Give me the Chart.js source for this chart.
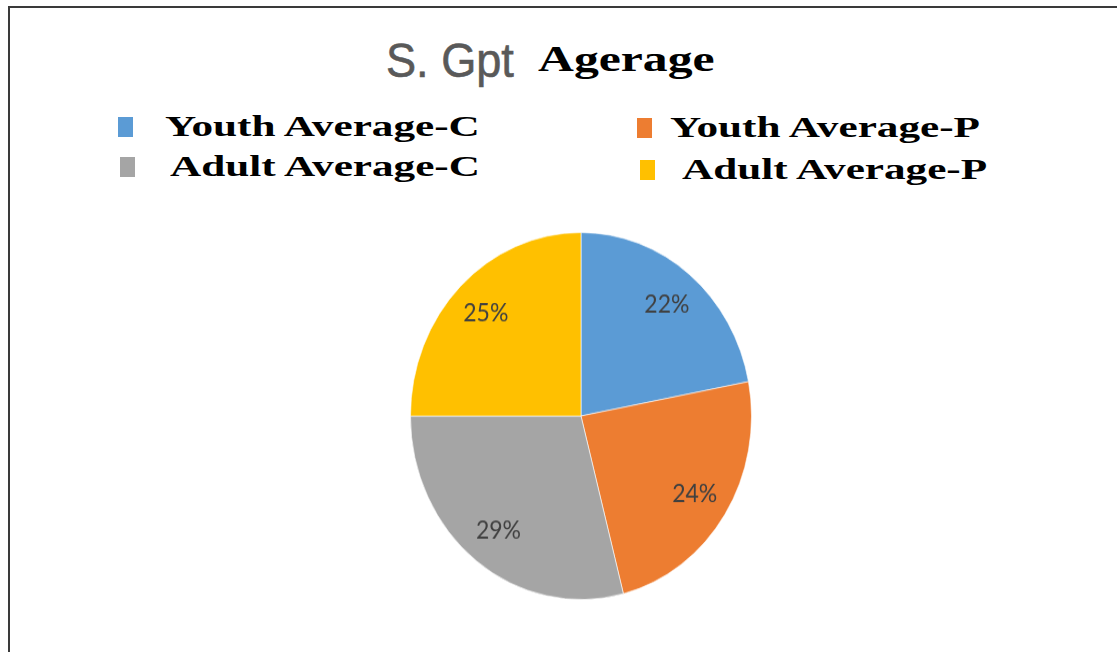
<!DOCTYPE html>
<html>
<head>
<meta charset="utf-8">
<script src="https://cdn.jsdelivr.net/npm/chart.js@4"></script>
<style>
html,body{margin:0;padding:0;background:#fff;}
#page{position:relative;width:1117px;height:652px;overflow:hidden;background:#fff;}
#frameTop{position:absolute;left:8px;top:6px;width:1109px;height:2px;background:#3a3a3a;}
#frameLeft{position:absolute;left:8px;top:6px;width:2px;height:646px;background:#3a3a3a;}
.t{position:absolute;white-space:nowrap;transform-origin:0 0;}
#t1{left:386px;top:33px;font-family:"Liberation Sans","DejaVu Sans",sans-serif;font-size:48px;color:#595959;-webkit-text-stroke:0.6px #595959;transform:scaleX(0.94);}
#t2{left:538px;top:40px;font-family:"Liberation Serif",serif;font-weight:bold;font-size:35px;color:#000;transform:scaleX(1.42);}
.lg{position:absolute;font-family:"Liberation Serif",serif;font-weight:bold;font-size:30px;color:#000;white-space:nowrap;transform-origin:0 0;transform:scaleX(1.44);}
.mk{position:absolute;width:15px;height:20px;}
#pieBox{position:absolute;left:410px;top:232px;width:342px;height:342px;transform-origin:0 0;transform:scaleY(1.076);}
</style>
</head>
<body>
<div id="page">
  <div id="frameTop"></div><div id="frameLeft"></div>
  <div class="t" id="t1">S. Gpt</div>
  <div class="t" id="t2">Agerage</div>
  <div id="legend"></div>
  <div id="pieBox"><canvas id="c"></canvas></div>
</div>
<script>
const categories = ["Youth Average-C", "Youth Average-P", "Adult Average-C", "Adult Average-P"];
const values = [22, 24, 29, 25];
const colors = ["#5B9BD5", "#ED7D31", "#A5A5A5", "#FFC000"];
const legendPos = [[118,117,165,109],[637,118,670,110],[120,157,170,149],[640,160,682,152]];

const lg = document.getElementById('legend');
categories.forEach((c,i)=>{
  const p = legendPos[i];
  const m = document.createElement('div'); m.className='mk';
  m.style.left=p[0]+'px'; m.style.top=p[1]+'px'; m.style.background=colors[i];
  lg.appendChild(m);
  const t = document.createElement('div'); t.className='lg';
  t.style.left=p[2]+'px'; t.style.top=p[3]+'px'; t.textContent=c;
  lg.appendChild(t);
});

const labelPlugin = {
  id:'pctLabels',
  afterDatasetsDraw(chart){
    const ctx = chart.ctx;
    const meta = chart.getDatasetMeta(0);
    const total = values.reduce((a,b)=>a+b,0);
    ctx.save();
    ctx.font = '23px Lato, "Open Sans", sans-serif';
    ctx.fillStyle = '#404040';
    ctx.textAlign='center'; ctx.textBaseline='middle';
    meta.data.forEach((arc,i)=>{
      const mid = (arc.startAngle+arc.endAngle)/2;
      const r = arc.outerRadius*0.79;
      const x = arc.x + Math.cos(mid)*r;
      const y = arc.y + Math.sin(mid)*r;
      ctx.fillText(Math.round(values[i]/total*100)+'%', x, y);
    });
    ctx.restore();
  }
};

new Chart(document.getElementById('c'), {
  type:'pie',
  data:{labels:categories, datasets:[{data:values, backgroundColor:colors, borderColor:'rgba(255,255,255,0.6)', borderWidth:1}]},
  options:{
    responsive:true, maintainAspectRatio:true, aspectRatio:1, animation:false,
    layout:{padding:0},
    plugins:{legend:{display:false}, tooltip:{enabled:false}, title:{display:false}}
  },
  plugins:[labelPlugin]
});
</script>
</body>
</html>
